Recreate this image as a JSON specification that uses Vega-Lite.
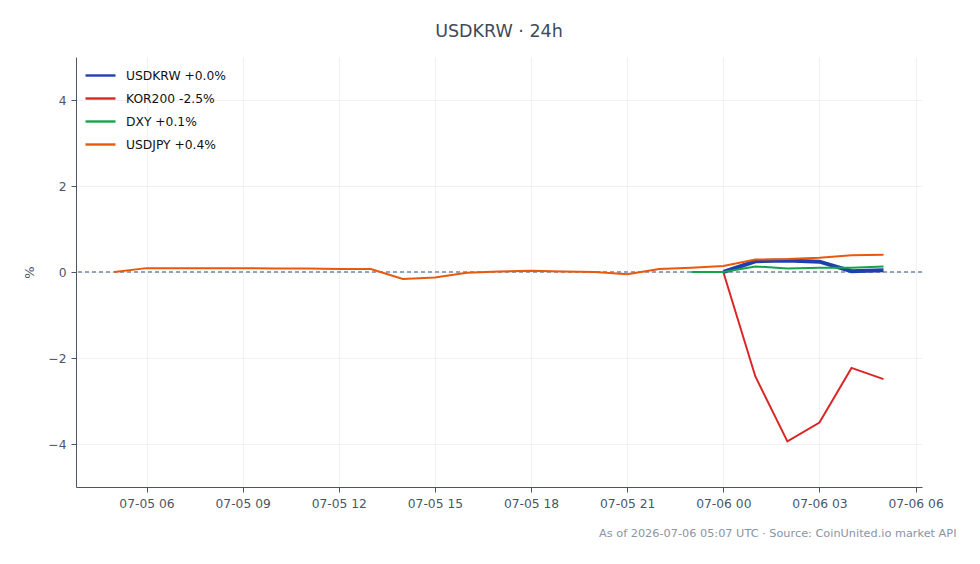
{
  "$schema": "https://vega.github.io/schema/vega-lite/v6.json",
  "width": 846,
  "height": 430,
  "autosize": {"type": "none"},
  "padding": {"left": 76, "top": 57, "right": 58, "bottom": 77},
  "background": "white",
  "title": {"text": "USDKRW · 24h", "font": "DejaVu Sans", "fontSize": 17.5, "fontWeight": "normal", "color": "#3f4a5c", "anchor": "middle", "offset": 17},
  "config": {
    "font": "DejaVu Sans",
    "view": {"stroke": null},
    "axis": {"labelFont": "DejaVu Sans", "labelFontSize": 12.3, "labelColor": "#4a5568", "domainColor": "#4a5568", "tickColor": "#4a5568", "tickSize": 5, "gridColor": "#ebedf0", "gridWidth": 0.8, "titleFont": "DejaVu Sans", "titleFontWeight": "normal"}
  },
  "data": {
    "values": [
      {"t": "2026-07-06T00:00:00", "s": "USDKRW +0.0%", "v": 0},
      {"t": "2026-07-06T01:00:00", "s": "USDKRW +0.0%", "v": 0.25},
      {"t": "2026-07-06T02:00:00", "s": "USDKRW +0.0%", "v": 0.27},
      {"t": "2026-07-06T03:00:00", "s": "USDKRW +0.0%", "v": 0.24},
      {"t": "2026-07-06T04:00:00", "s": "USDKRW +0.0%", "v": 0.02},
      {"t": "2026-07-06T05:00:00", "s": "USDKRW +0.0%", "v": 0.04},
      {"t": "2026-07-06T00:00:00", "s": "KOR200 -2.5%", "v": 0},
      {"t": "2026-07-06T01:00:00", "s": "KOR200 -2.5%", "v": -2.43},
      {"t": "2026-07-06T02:00:00", "s": "KOR200 -2.5%", "v": -3.94},
      {"t": "2026-07-06T03:00:00", "s": "KOR200 -2.5%", "v": -3.5},
      {"t": "2026-07-06T04:00:00", "s": "KOR200 -2.5%", "v": -2.23},
      {"t": "2026-07-06T05:00:00", "s": "KOR200 -2.5%", "v": -2.49},
      {"t": "2026-07-05T23:00:00", "s": "DXY +0.1%", "v": 0},
      {"t": "2026-07-06T00:00:00", "s": "DXY +0.1%", "v": 0},
      {"t": "2026-07-06T01:00:00", "s": "DXY +0.1%", "v": 0.13},
      {"t": "2026-07-06T02:00:00", "s": "DXY +0.1%", "v": 0.08},
      {"t": "2026-07-06T03:00:00", "s": "DXY +0.1%", "v": 0.1},
      {"t": "2026-07-06T04:00:00", "s": "DXY +0.1%", "v": 0.1},
      {"t": "2026-07-06T05:00:00", "s": "DXY +0.1%", "v": 0.13},
      {"t": "2026-07-05T05:00:00", "s": "USDJPY +0.4%", "v": 0},
      {"t": "2026-07-05T06:00:00", "s": "USDJPY +0.4%", "v": 0.09},
      {"t": "2026-07-05T07:00:00", "s": "USDJPY +0.4%", "v": 0.09},
      {"t": "2026-07-05T08:00:00", "s": "USDJPY +0.4%", "v": 0.09},
      {"t": "2026-07-05T09:00:00", "s": "USDJPY +0.4%", "v": 0.09},
      {"t": "2026-07-05T10:00:00", "s": "USDJPY +0.4%", "v": 0.08},
      {"t": "2026-07-05T11:00:00", "s": "USDJPY +0.4%", "v": 0.08},
      {"t": "2026-07-05T12:00:00", "s": "USDJPY +0.4%", "v": 0.07},
      {"t": "2026-07-05T13:00:00", "s": "USDJPY +0.4%", "v": 0.07},
      {"t": "2026-07-05T14:00:00", "s": "USDJPY +0.4%", "v": -0.16},
      {"t": "2026-07-05T15:00:00", "s": "USDJPY +0.4%", "v": -0.13},
      {"t": "2026-07-05T16:00:00", "s": "USDJPY +0.4%", "v": -0.02},
      {"t": "2026-07-05T17:00:00", "s": "USDJPY +0.4%", "v": 0.01},
      {"t": "2026-07-05T18:00:00", "s": "USDJPY +0.4%", "v": 0.03},
      {"t": "2026-07-05T19:00:00", "s": "USDJPY +0.4%", "v": 0.01},
      {"t": "2026-07-05T20:00:00", "s": "USDJPY +0.4%", "v": 0.0},
      {"t": "2026-07-05T21:00:00", "s": "USDJPY +0.4%", "v": -0.05},
      {"t": "2026-07-05T22:00:00", "s": "USDJPY +0.4%", "v": 0.07},
      {"t": "2026-07-05T23:00:00", "s": "USDJPY +0.4%", "v": 0.1},
      {"t": "2026-07-06T00:00:00", "s": "USDJPY +0.4%", "v": 0.14},
      {"t": "2026-07-06T01:00:00", "s": "USDJPY +0.4%", "v": 0.29},
      {"t": "2026-07-06T02:00:00", "s": "USDJPY +0.4%", "v": 0.3},
      {"t": "2026-07-06T03:00:00", "s": "USDJPY +0.4%", "v": 0.33},
      {"t": "2026-07-06T04:00:00", "s": "USDJPY +0.4%", "v": 0.39},
      {"t": "2026-07-06T05:00:00", "s": "USDJPY +0.4%", "v": 0.4}
    ]
  },
  "layer": [
    {
      "mark": {"type": "rule", "color": "#94a3b8", "strokeWidth": 1, "strokeDash": [4, 3]},
      "encoding": {"y": {"datum": 0}}
    },
    {
      "mark": {"type": "line"},
      "encoding": {
        "x": {
          "field": "t", "type": "temporal",
          "scale": {"domain": [{"year": 2026, "month": 7, "date": 5, "hours": 3, "minutes": 48}, {"year": 2026, "month": 7, "date": 6, "hours": 6, "minutes": 12}]},
          "axis": {"title": "As of 2026-07-06 05:07 UTC · Source: CoinUnited.io market API", "titleFontSize": 11.3, "titleColor": "#8a94a3", "titleAnchor": "end", "titleX": 880, "titlePadding": 18, "format": "%m-%d %H", "labelPadding": 5, "grid": true,
            "values": [
              {"year": 2026, "month": 7, "date": 5, "hours": 6},
              {"year": 2026, "month": 7, "date": 5, "hours": 9},
              {"year": 2026, "month": 7, "date": 5, "hours": 12},
              {"year": 2026, "month": 7, "date": 5, "hours": 15},
              {"year": 2026, "month": 7, "date": 5, "hours": 18},
              {"year": 2026, "month": 7, "date": 5, "hours": 21},
              {"year": 2026, "month": 7, "date": 6, "hours": 0},
              {"year": 2026, "month": 7, "date": 6, "hours": 3},
              {"year": 2026, "month": 7, "date": 6, "hours": 6}
            ]}
        },
        "y": {
          "field": "v", "type": "quantitative",
          "scale": {"domain": [-5, 5], "nice": false, "zero": false},
          "axis": {"title": "%", "titleFontSize": 13, "titleColor": "#4a5568", "titlePadding": 11, "values": [-4, -2, 0, 2, 4], "labelPadding": 5, "grid": true}
        },
        "color": {
          "field": "s", "type": "nominal",
          "scale": {"domain": ["USDKRW +0.0%", "KOR200 -2.5%", "DXY +0.1%", "USDJPY +0.4%"], "range": ["#1e40af", "#dc2626", "#16a34a", "#ea580c"]},
          "legend": {"title": null, "orient": "none", "legendX": 8, "legendY": 2, "symbolType": "stroke", "symbolSize": 900, "symbolStrokeWidth": 2.4, "labelFontSize": 12.3, "labelColor": "#111111", "rowPadding": -4, "labelOffset": 9}
        },
        "strokeWidth": {"condition": {"test": "datum.s === 'USDKRW +0.0%'", "value": 4}, "value": 2}
      }
    }
  ]
}
